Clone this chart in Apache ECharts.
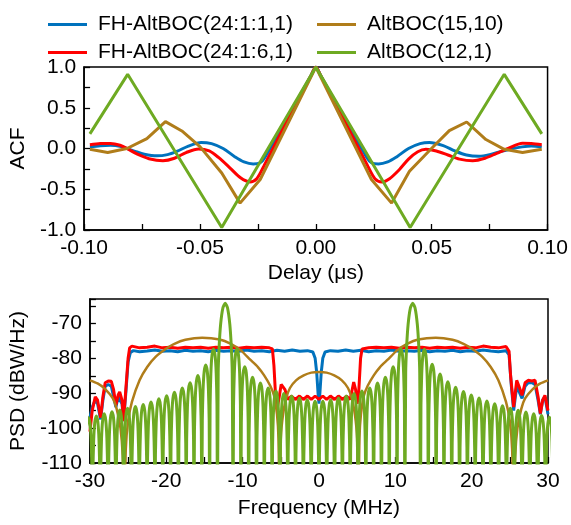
<!DOCTYPE html>
<html>
<head>
<meta charset="utf-8">
<script src="https://cdn.jsdelivr.net/npm/echarts@6/dist/echarts.min.js"></script>
<style>html,body{margin:0;padding:0;background:#fff}#main{width:571px;height:525px}</style>
</head>
<body>
<div id="main"></div>
<script>
// series names
var names = ['FH-AltBOC(24:1:1,1)', 'FH-AltBOC(24:1:6,1)', 'AltBOC(15,10)', 'AltBOC(12,1)'];
var colors = ['#0072BD', '#FF0000', '#B07D1A', '#6EAA22'];

// ACF (delay in us, normalised ACF)
var acfBlue = [[-0.0975,0.02],[-0.093,0.035],[-0.0886,0.04],[-0.084,0.025],[-0.0815,0.0],[-0.078,-0.035],[-0.074,-0.07],[-0.0686,-0.09],[-0.064,-0.075],[-0.06,-0.035],[-0.055,0.03],[-0.0495,0.075],[-0.045,0.06],[-0.04,0.0],[-0.035,-0.1],[-0.031,-0.165],[-0.027,-0.19],[-0.024,-0.175],[-0.022,-0.11],[-0.011,0.44],[-0.002,0.9],[0,1],
  [0.002,0.9],[0.011,0.44],[0.022,-0.11],[0.024,-0.175],[0.027,-0.19],[0.031,-0.165],[0.035,-0.1],[0.04,0.0],[0.045,0.06],[0.049,0.075],[0.055,0.035],[0.06,-0.03],[0.065,-0.08],[0.0705,-0.095],[0.075,-0.075],[0.08,-0.035],[0.085,0.0],[0.089,0.02],[0.093,0.03],[0.0975,0.02]];
var acfRed = [[-0.0975,0.045],[-0.093,0.06],[-0.0886,0.062],[-0.0845,0.04],[-0.0815,0.0],[-0.077,-0.07],[-0.072,-0.125],[-0.066,-0.15],[-0.061,-0.12],[-0.056,-0.05],[-0.0506,-0.005],[-0.046,-0.03],[-0.042,-0.11],[-0.037,-0.24],[-0.0325,-0.36],[-0.0285,-0.41],[-0.0255,-0.37],[-0.0225,-0.22],[-0.012,0.36],[-0.002,0.9],[0,1],
  [0.002,0.9],[0.012,0.36],[0.0225,-0.22],[0.0255,-0.37],[0.0285,-0.41],[0.0318,-0.37],[0.036,-0.26],[0.04,-0.13],[0.044,-0.04],[0.0475,-0.01],[0.052,-0.03],[0.057,-0.08],[0.062,-0.13],[0.0677,-0.15],[0.073,-0.12],[0.078,-0.06],[0.083,0.0],[0.0892,0.064],[0.093,0.06],[0.0975,0.045]];
var acfBrown = [[-0.0975,-0.01],[-0.0898,-0.05],[-0.0815,0.0],[-0.0729,0.12],[-0.0649,0.33],[-0.0578,0.215],[-0.0499,0.02],[-0.0406,-0.30],[-0.0327,-0.67],[-0.024,-0.38],[-0.012,0.31],[0,1],
  [0.012,0.31],[0.024,-0.38],[0.0327,-0.67],[0.0404,-0.28],[0.0499,0.0],[0.0576,0.22],[0.0651,0.325],[0.0734,0.11],[0.0813,-0.01],[0.0892,-0.05],[0.0975,-0.01]];
var acfGreen = [[-0.0975,0.18],[-0.0812,0.91],[-0.0406,-0.97],[0,1],[0.0407,-0.97],[0.0813,0.91],[0.0975,0.18]];

// PSD (frequency in MHz, dBW/Hz)
var psdBlue = [[-30,-97],[-29.7,-94],[-29.3,-92],[-29.0,-93],[-28.6,-97.5],[-28.3,-92],[-28.0,-88],[-27.6,-87.5],[-27.2,-88],[-26.9,-91],[-26.6,-94],[-26.3,-91],[-26.1,-90.5],[-25.8,-93],[-25.6,-98],[-25.3,-90],[-25.0,-81],[-24.7,-78.3],[-24.3,-77.8],[-23.5,-78.1],[-22.5,-77.9],[-21.5,-77.6],[-20.5,-78.0],[-19.5,-77.8],[-18.5,-78.1],[-17.5,-77.7],[-16.5,-78.0],[-15.5,-77.8],[-14.5,-78.1],[-13.5,-77.7],[-12.5,-78.0],[-11.5,-77.8],[-10.5,-78.0],[-9.5,-77.6],[-8.5,-78.0],[-7.5,-77.8],[-6.5,-78.1],[-5.5,-77.7],[-4.5,-78.0],[-3.5,-77.6],[-2.5,-78.0],[-1.5,-77.8],[-0.8,-78.2],[-0.5,-80],[-0.3,-84],[-0.12,-90],[0,-93],
  [0.12,-90],[0.3,-84],[0.5,-80],[0.8,-78.2],[1.5,-77.8],[2.5,-78.0],[3.5,-77.6],[4.5,-78.0],[5.5,-77.7],[6.5,-78.1],[7.5,-77.8],[8.5,-78.0],[9.5,-77.6],[10.5,-78.0],[11.5,-77.8],[12.5,-78.0],[13.5,-77.7],[14.5,-78.1],[15.5,-77.8],[16.5,-78.0],[17.5,-77.7],[18.5,-78.1],[19.5,-77.8],[20.5,-78.0],[21.5,-77.6],[22.5,-77.9],[23.5,-78.1],[24.5,-77.8],[24.9,-79],[25.2,-88],[25.5,-95],[25.9,-88],[26.3,-90],[26.6,-91.5],[27.0,-88],[27.4,-87],[27.9,-87],[28.3,-87.5],[28.7,-92],[29.0,-96],[29.3,-92],[29.6,-91],[30,-96]];
var psdRed = [[-30,-101],[-29.7,-95],[-29.3,-91],[-29.0,-92],[-28.6,-97],[-28.3,-91],[-28.0,-87],[-27.6,-86.5],[-27.2,-86.6],[-26.9,-89],[-26.6,-93.4],[-26.3,-90.5],[-26.1,-89.6],[-25.8,-92],[-25.6,-98],[-25.3,-89],[-25.0,-80],[-24.8,-77],[-24.5,-76.5],[-23.5,-77.0],[-22.5,-76.8],[-21.5,-76.5],[-20.5,-77.0],[-19.5,-76.8],[-18.5,-77.1],[-17.5,-76.8],[-16.5,-77.0],[-15.5,-76.8],[-14.5,-77.1],[-13.5,-76.8],[-12.5,-77.0],[-11.5,-76.8],[-10.5,-77.1],[-9.5,-76.8],[-8.5,-77.0],[-7.5,-76.8],[-6.5,-77.0],[-6.1,-77.3],[-5.9,-82],[-5.7,-90],[-5.45,-94],[-5.2,-91],[-4.95,-87.5],[-4.7,-87],[-4.45,-89],[-4.1,-91.8],[-3.6,-90.8],[-3.1,-91.8],[-2.55,-90.8],[-2.05,-91.8],[-1.5,-90.8],[-1.0,-91.8],[-0.5,-90.8],[0,-91.8],
  [0.5,-90.8],[1.0,-91.8],[1.5,-90.8],[2.05,-91.8],[2.55,-90.8],[3.1,-91.8],[3.6,-90.8],[4.1,-91.8],[4.35,-89],[4.55,-86.8],[4.8,-89],[5.0,-93],[5.2,-90],[5.45,-80],[5.65,-77.3],[6.5,-77.0],[7.5,-76.8],[8.5,-77.0],[9.5,-76.8],[10.5,-77.1],[11.5,-76.8],[12.5,-77.0],[13.5,-76.8],[14.5,-77.1],[15.5,-76.8],[16.5,-77.0],[17.5,-76.8],[18.5,-77.1],[19.5,-76.8],[20.5,-77.0],[21.5,-76.5],[22.5,-76.8],[23.5,-77.0],[24.5,-76.6],[24.9,-78],[25.1,-85],[25.5,-94],[25.9,-86.3],[26.2,-88],[26.6,-90.6],[27.0,-87],[27.4,-86.3],[27.9,-86.5],[28.3,-86.3],[28.7,-91],[29.0,-95.8],[29.3,-92],[29.6,-90.6],[30,-95]];
var psdBrown = [[-30,-86.3],[-29,-87.2],[-28,-88.8],[-27,-91.5],[-26.5,-94.5],[-26,-100],[-25.7,-108],[-25.5,-125],[-25.3,-106],[-25.0,-98],[-24.5,-92.5],[-23.5,-86.3],[-22.5,-82.5],[-21.4,-79.6],[-20,-77.2],[-19,-75.9],[-17.5,-74.7],[-15.3,-74.1],[-13,-74.6],[-11.6,-75.8],[-10.2,-77.8],[-9,-80.4],[-8,-82.5],[-7.2,-84.8],[-6.4,-87.8],[-5.9,-90.6],[-5.5,-96],[-5.3,-103],[-5.15,-125],[-5.0,-103],[-4.7,-96],[-4.3,-91.5],[-3.8,-88.5],[-3.0,-86.3],[-2.0,-84.9],[-1.0,-84.1],[0,-83.9],
  [1.0,-84.1],[2.0,-84.9],[3.0,-86.3],[3.8,-88.5],[4.3,-91.5],[4.7,-96],[5.0,-103],[5.15,-125],[5.3,-103],[5.5,-96],[5.9,-90.6],[6.4,-87.8],[7.2,-84.8],[8,-82.5],[9,-80.4],[10.2,-77.8],[11.6,-75.8],[13,-74.6],[15.3,-74.1],[17.5,-74.7],[19,-75.9],[20,-77.2],[21.4,-79.6],[22.5,-82.5],[23.5,-86.3],[24.5,-92.5],[25.0,-98],[25.3,-106],[25.5,-125],[25.7,-108],[26,-100],[26.5,-94.5],[27,-91.5],[28,-88.8],[29,-87.2],[30,-86.3]];

// AltBOC(12,1) PSD: lobe peaks, nulls and the lobe outline
var greenPeakF = [-30.18,-29.16,-28.13,-27.11,-26.09,-25.07,-24.04,-23.02,-22.00,-20.97,-19.95,-18.93,-17.90,-16.88,-15.86,-14.83,-13.81,-12.28,-10.74,-9.72,-8.70,-7.67,-6.65,-5.63,-4.60,-3.58,-2.56,-1.53,-0.51,
  0.51,1.53,2.56,3.58,4.60,5.63,6.65,7.67,8.70,9.72,10.74,12.28,13.81,14.83,15.86,16.88,17.90,18.93,19.95,20.97,22.00,23.02,24.04,25.07,26.09,27.11,28.13,29.16,30.18];
var greenPeakDb = [-97.0,-96.5,-95.9,-95.3,-94.8,-94.3,-93.8,-93.2,-92.5,-91.6,-90.7,-89.7,-88.5,-87.0,-84.9,-81.9,-77.3,-64.2,-77.3,-82.4,-85.4,-87.1,-88.5,-89.4,-90.1,-90.8,-91.4,-91.9,-92.3,
  -92.3,-91.9,-91.4,-90.8,-90.1,-89.4,-88.5,-87.1,-85.4,-82.4,-77.3,-64.2,-77.4,-81.7,-84.5,-86.7,-88.3,-89.5,-90.5,-91.4,-92.2,-93.0,-93.6,-94.3,-94.9,-95.4,-95.9,-96.4,-96.9];
var greenNullF = [-29.67,-28.64,-27.62,-26.60,-25.58,-24.55,-23.53,-22.51,-21.48,-20.46,-19.44,-18.41,-17.39,-16.37,-15.35,-14.32,-13.30,-11.25,-10.23,-9.21,-8.18,-7.16,-6.14,-5.12,-4.09,-3.07,-2.05,-1.02,0,
  1.02,2.05,3.07,4.09,5.12,6.14,7.16,8.18,9.21,10.23,11.25,13.30,14.32,15.35,16.37,17.39,18.41,19.44,20.46,21.48,22.51,23.53,24.55,25.58,26.60,27.62,28.64,29.67];
var greenNullDb = -125;
var sideLobeOffset = [0.2, 0.35, 0.45];      // MHz from the lobe top
var sideLobeDrop = [-1.8, -7, -16];          // dB below the lobe top
var mainLobeOffset = [0.3, 0.6, 0.8, 0.92];
var mainLobeDrop = [-1.3, -6, -12.6, -20];

// tick labels
var acfTicks = [-1, -0.5, 0, 0.5, 1];
var delayTicks = [-0.1, -0.05, 0, 0.05, 0.1];
var psdTicks = [-110, -100, -90, -80, -70];
var freqTicks = [-30, -20, -10, 0, 10, 20, 30];

var greenPsd = [];
greenPeakF.forEach(function(f, i) {
    var top = greenPeakDb[i];
    var main = top > -70;
    var off = main ? mainLobeOffset : sideLobeOffset;
    var drop = main ? mainLobeDrop : sideLobeDrop;
    greenPsd.push([f, top]);
    for (var k = 0; k < off.length; k++) {
        greenPsd.push([f - off[k], top + drop[k]]);
        greenPsd.push([f + off[k], top + drop[k]]);
    }
});
greenNullF.forEach(function(f) { greenPsd.push([f, greenNullDb]); });
greenPsd.sort(function(a, b) { return a[0] - b[0]; });

var font = "'Liberation Sans', Arial, sans-serif";

function inList(list, v) {
    for (var i = 0; i < list.length; i++) {
        if (Math.abs(list[i] - v) < 1e-9) return true;
    }
    return false;
}

function axisBase(name, min, max, interval, ticks, digits, gap) {
    return {
        type: 'value', min: min, max: max, interval: interval,
        name: name, nameLocation: 'middle', nameGap: gap,
        nameTextStyle: { fontSize: 21, color: '#000', fontFamily: font },
        axisLine: { show: true, onZero: false, lineStyle: { color: '#000', width: 1.5 } },
        axisTick: { show: true, inside: true, length: 6, lineStyle: { color: '#000', width: 1.3 } },
        axisLabel: {
            fontSize: 21, color: '#000', fontFamily: font, margin: 8,
            formatter: function(v) {
                if (!inList(ticks, v)) return '';
                if (Math.abs(v) < 1e-9) v = 0;
                return v.toFixed(digits);
            }
        },
        splitLine: { show: false }
    };
}

function line(i, data, axis, width, smooth) {
    return {
        name: names[i], type: 'line', data: data,
        xAxisIndex: axis, yAxisIndex: axis,
        showSymbol: false, symbol: 'none', smooth: smooth, clip: true,
        lineStyle: { color: colors[i], width: width },
        itemStyle: { color: colors[i] }
    };
}

var xTop = axisBase('Delay (\u03bcs)', -0.1, 0.1, 0.025, delayTicks, 2, 33);
xTop.gridIndex = 0;
var yTop = axisBase('ACF', -1, 1, 0.25, acfTicks, 1, 52);
yTop.gridIndex = 0;
var xBot = axisBase('Frequency (MHz)', -30, 30, 5, freqTicks, 0, 35);
xBot.gridIndex = 1;
var yBot = axisBase('PSD (dBW/Hz)', -110, -63, 5, psdTicks, 0, 52);
yBot.gridIndex = 1;

var legendText = { fontSize: 21, color: '#000', fontFamily: font, lineHeight: 21, padding: [0, 0, 0, 6] };

var myChart = echarts.init(document.getElementById('main'));
myChart.setOption({
    animation: false,
    backgroundColor: '#fff',
    legend: [
        { data: [names[0], names[1]], orient: 'vertical', left: 43, top: 9, itemWidth: 39, itemHeight: 3, itemGap: 7, icon: 'rect', textStyle: legendText, selectedMode: false },
        { data: [names[2], names[3]], orient: 'vertical', left: 312, top: 9, itemWidth: 39, itemHeight: 3, itemGap: 7, icon: 'rect', textStyle: legendText, selectedMode: false }
    ],
    grid: [
        { left: 83, right: 23, top: 67, height: 163, show: true, borderColor: '#000', borderWidth: 1.5 },
        { left: 83, right: 23, top: 299, height: 164, show: true, borderColor: '#000', borderWidth: 1.5 }
    ],
    xAxis: [xTop, xBot],
    yAxis: [yTop, yBot],
    series: [
        line(0, acfBlue, 0, 3, 0.3),
        line(1, acfRed, 0, 3, 0.3),
        line(2, acfBrown, 0, 3, false),
        line(3, acfGreen, 0, 3, false),
        line(0, psdBlue, 1, 3, false),
        line(1, psdRed, 1, 3, false),
        line(2, psdBrown, 1, 2.5, 0.2),
        line(3, greenPsd, 1, 3, 0.2)
    ]
});
</script>
</body>
</html>
